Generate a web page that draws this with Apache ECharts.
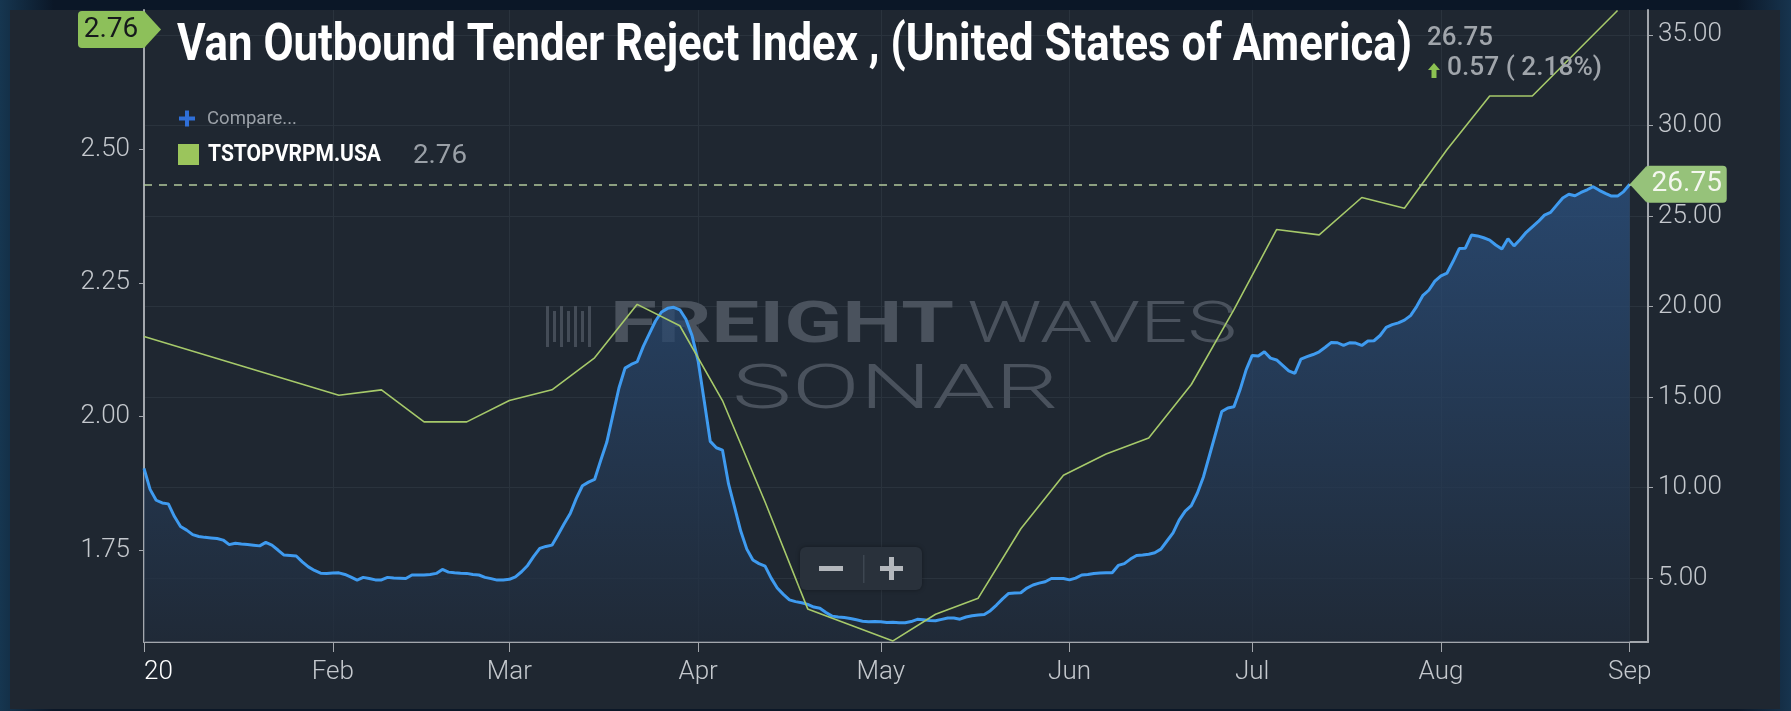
<!DOCTYPE html>
<html>
<head>
<meta charset="utf-8">
<title>Van Outbound Tender Reject Index</title>
<script src="https://cdn.jsdelivr.net/npm/echarts@6.0.0/dist/echarts.min.js"></script>
<style>
  html, body { margin: 0; padding: 0; background: #0c1a2b; }
  #main { width: 1791px; height: 711px; background: linear-gradient(90deg, #163650 0%, #0b1727 3%, #0b1727 97%, #17344e 100%); }
</style>
</head>
<body>
<div id="main"></div>
<script>
// daily categories, Jan 1 2020 .. Sep 4 2020
var dates = []
for (var i = 0; i < 248; i++) {
  dates.push(new Date(Date.UTC(2020, 0, 1 + i)).toISOString().slice(0, 10))
}

var monthTicks = ['2020-01-01', '2020-02-01', '2020-03-01', '2020-04-01', '2020-05-01', '2020-06-01', '2020-07-01', '2020-08-01', '2020-09-01']
var monthLabels = ['20', 'Feb', 'Mar', 'Apr', 'May', 'Jun', 'Jul', 'Aug', 'Sep']

var leftTicks = [1.75, 2.00, 2.25, 2.50]
var rightTicks = [5, 10, 15, 20, 25, 30, 35]

// Van Outbound Tender Reject Index (right axis), daily from Jan 1
var rejectValues = [
  11.06, 9.9, 9.3, 9.15, 9.1, 8.4, 7.85, 7.65, 7.4, 7.3,
  7.25, 7.22, 7.19, 7.1, 6.85, 6.92, 6.88, 6.85, 6.82, 6.78,
  6.97, 6.82, 6.55, 6.27, 6.25, 6.22, 5.9, 5.62, 5.42, 5.27,
  5.26, 5.28, 5.29, 5.2, 5.05, 4.89, 5.04, 4.98, 4.9, 4.9,
  5.04, 5.0, 4.99, 4.98, 5.17, 5.17, 5.17, 5.2, 5.26, 5.48,
  5.33, 5.29, 5.27, 5.26, 5.2, 5.17, 5.04, 4.97, 4.89, 4.9,
  4.93, 5.07, 5.35, 5.7, 6.2, 6.64, 6.75, 6.82, 7.4, 8.0,
  8.57, 9.4, 10.1, 10.3, 10.45, 11.5, 12.5, 14.0, 15.5, 16.6,
  16.8, 16.95, 17.8, 18.5, 19.2, 19.7, 19.9, 19.96, 19.82, 19.3,
  18.4, 17.0, 14.8, 12.55, 12.2, 12.07, 10.2, 8.9, 7.6, 6.6,
  6.0, 5.8, 5.66, 5.0, 4.45, 4.1, 3.8, 3.7, 3.64, 3.55,
  3.4, 3.33, 3.1, 2.9, 2.85, 2.82, 2.77, 2.7, 2.62, 2.59,
  2.6, 2.59, 2.55, 2.56, 2.54, 2.53, 2.6, 2.72, 2.7, 2.66,
  2.64, 2.72, 2.8, 2.8, 2.73, 2.85, 2.92, 2.96, 2.99, 3.2,
  3.51, 3.85, 4.15, 4.18, 4.19, 4.45, 4.62, 4.72, 4.8, 4.98,
  4.98, 4.98, 4.9, 5.0, 5.17, 5.2, 5.25, 5.28, 5.29, 5.3,
  5.7, 5.8, 6.05, 6.25, 6.28, 6.32, 6.4, 6.6, 7.05, 7.5,
  8.2, 8.7, 9.0, 9.7, 10.6, 11.8, 13.0, 14.2, 14.4, 14.46,
  15.4, 16.5, 17.3, 17.27, 17.5, 17.15, 17.05, 16.75, 16.45, 16.31,
  17.1, 17.23, 17.35, 17.5, 17.75, 18.02, 18.0, 17.85, 18.0, 17.98,
  17.85, 18.1, 18.11, 18.4, 18.85, 19.0, 19.1, 19.25, 19.5, 20.0,
  20.6, 20.9, 21.4, 21.7, 21.85, 22.5, 23.2, 23.22, 23.95, 23.9,
  23.8, 23.67, 23.4, 23.18, 23.75, 23.35, 23.7, 24.1, 24.4, 24.7,
  25.05, 25.2, 25.6, 26.0, 26.2, 26.12, 26.3, 26.45, 26.62, 26.42,
  26.25, 26.1, 26.1, 26.35, 26.75
]

// TSTOPVRPM.USA (left axis), weekly
var rateDates = ['2020-01-01', '2020-02-02', '2020-02-09', '2020-02-16', '2020-02-23', '2020-03-01', '2020-03-08', '2020-03-15',
  '2020-03-22', '2020-03-29', '2020-04-05', '2020-04-12', '2020-04-19', '2020-04-26', '2020-05-03', '2020-05-10',
  '2020-05-17', '2020-05-24', '2020-05-31', '2020-06-07', '2020-06-14', '2020-06-21', '2020-06-28', '2020-07-05',
  '2020-07-12', '2020-07-19', '2020-07-26', '2020-08-02', '2020-08-09', '2020-08-16', '2020-08-23', '2020-08-30']
var rateValues = [2.15, 2.04, 2.05, 1.99, 1.99, 2.03, 2.05, 2.11,
  2.21, 2.17, 2.03, 1.84, 1.64, 1.61, 1.58, 1.63,
  1.66, 1.79, 1.89, 1.93, 1.96, 2.06, 2.20, 2.35,
  2.34, 2.41, 2.39, 2.50, 2.60, 2.60, 2.68, 2.76]

var lastReject = rejectValues[rejectValues.length - 1]
var lastRate = rateValues[rateValues.length - 1]
var changeText = '0.57 ( 2.18%)'

var rateData = dates.map(function(d) {
  var k = rateDates.indexOf(d)
  return k >= 0 ? rateValues[k] : null
})

var isMonthTick = function(index, value) {
  return monthTicks.indexOf(value) >= 0
}

// scaleX needed to squeeze a text into a given width (condensed look)
var measureCtx = document.createElement('canvas').getContext('2d')
function fit(text, font, width) {
  measureCtx.font = font
  return width / measureCtx.measureText(text).width
}

function label(text, x, y, font, color, width, align, z) {
  return {
    type: 'text',
    x: x,
    y: y,
    z: z || 50,
    scaleX: width ? fit(text, font, width) : 1,
    style: {
      text: text,
      font: font,
      fill: color,
      align: align || 'left',
      textAlign: align || 'left',
      verticalAlign: 'middle',
      textVerticalAlign: 'middle'
    }
  }
}

var chart = echarts.init(document.getElementById('main'))

chart.setOption({
  animation: false,
  backgroundColor: 'transparent',
  grid: { left: 144, right: 143, top: 10, bottom: 69 },
  xAxis: {
    type: 'category',
    data: dates,
    boundaryGap: false,
    axisLine: { lineStyle: { color: '#a3a7ad', width: 2 } },
    axisTick: { interval: isMonthTick, length: 10, lineStyle: { color: '#a3a7ad', width: 1 } },
    splitLine: { show: true, interval: isMonthTick, lineStyle: { color: '#2a333d', width: 1 } },
    axisLabel: {
      interval: isMonthTick,
      margin: 17,
      fontFamily: 'Roboto',
      fontWeight: 300,
      fontSize: 26,
      alignMinLabel: 'left',
      color: function(value) {
        return value === monthTicks[0] ? '#ffffff' : '#c4c8cd'
      },
      formatter: function(value) {
        var k = monthTicks.indexOf(value)
        return k >= 0 ? monthLabels[k] : ''
      }
    }
  },
  yAxis: [
    {
      type: 'value',
      position: 'left',
      min: 1.578,
      max: 2.761,
      axisLine: { show: true, lineStyle: { color: '#a3a7ad', width: 2 } },
      axisTick: { show: true, length: 5, customValues: leftTicks, lineStyle: { color: '#a3a7ad' } },
      splitLine: { show: false },
      axisLabel: {
        customValues: leftTicks,
        margin: 14,
        fontFamily: 'Roboto',
        fontWeight: 300,
        fontSize: 26,
        color: '#c4c8cd',
        formatter: function(v) { return v.toFixed(2) }
      }
    },
    {
      type: 'value',
      position: 'right',
      min: 1.47,
      max: 36.38,
      axisLine: { show: true, lineStyle: { color: '#a3a7ad', width: 2 } },
      axisTick: { show: true, length: 5, customValues: rightTicks, lineStyle: { color: '#a3a7ad' } },
      splitLine: { show: true, lineStyle: { color: '#2a333d', width: 1 } },
      axisLabel: {
        customValues: rightTicks,
        margin: 10,
        fontFamily: 'Roboto',
        fontWeight: 300,
        fontSize: 26,
        color: '#c4c8cd',
        formatter: function(v) { return v.toFixed(2) }
      }
    }
  ],
  series: [
    {
      name: 'Van Outbound Tender Reject Index',
      type: 'line',
      yAxisIndex: 1,
      data: rejectValues,
      showSymbol: false,
      z: 3,
      lineStyle: { color: '#3f9bf0', width: 3 },
      areaStyle: {
        origin: 'start',
        color: new echarts.graphic.LinearGradient(0, 0, 0, 1, [
          { offset: 0, color: '#2c5486' },
          { offset: 1, color: '#202b3a' }
        ])
      },
      markLine: {
        silent: true,
        symbol: 'none',
        label: { show: false },
        lineStyle: { color: '#b3c99c', type: [8, 7], width: 1.6 },
        data: [{ yAxis: lastReject }]
      }
    },
    {
      name: 'TSTOPVRPM.USA',
      type: 'line',
      yAxisIndex: 0,
      data: rateData,
      connectNulls: true,
      showSymbol: false,
      z: 4,
      lineStyle: { color: '#a6c96a', width: 1.6 }
    }
  ]
})

// value tags and overlay text
var tipR = chart.convertToPixel({ seriesIndex: 0 }, [dates[rejectValues.length - 1], lastReject])
var tipLy = Math.max(chart.convertToPixel({ yAxisIndex: 0 }, lastRate) + 19, 29.5)

chart.setOption({
  graphic: [
    // panel
    { type: 'rect', z: -100, shape: { x: 10, y: 10, width: 1770, height: 699 }, style: { fill: '#1f2731' } },
    // watermark
    { type: 'group', z: 1, children: [0, 1, 2, 3, 4, 5, 6].map(function(k) {
      return { type: 'rect', shape: { x: 546 + k * 7, y: 306 + (k % 2) * 5, width: 3, height: 41 - (k % 2) * 10 }, style: { fill: '#444c57' } }
    }) },
    label('FREIGHT', 610, 327, 'bold 58px Roboto', '#4a525d', 344, 'left', 1),
    label('WAVES', 967, 327, '300 58px Roboto', '#4a525d', 270, 'left', 1),
    label('SONAR', 732, 392, '300 62px Roboto', '#4a525d', 327, 'left', 1),
    // zoom control
    { type: 'rect', z: 40, shape: { x: 800, y: 547, width: 122, height: 43, r: 6 }, style: { fill: '#29313b', shadowBlur: 4, shadowColor: 'rgba(0,0,0,0.35)' } },
    { type: 'rect', z: 41, shape: { x: 819, y: 566, width: 24, height: 5 }, style: { fill: '#b3b7bc' } },
    { type: 'rect', z: 41, shape: { x: 863, y: 555, width: 1.5, height: 28 }, style: { fill: '#3d4651' } },
    { type: 'rect', z: 41, shape: { x: 880, y: 566, width: 23, height: 5 }, style: { fill: '#b3b7bc' } },
    { type: 'rect', z: 41, shape: { x: 889, y: 557, width: 5, height: 23 }, style: { fill: '#b3b7bc' } },
    // title and legend
    label('Van Outbound Tender Reject Index , (United States of America)', 177, 47, 'bold 52px Roboto', '#ffffff', 1235),
    { type: 'rect', z: 50, shape: { x: 179, y: 116.5, width: 16, height: 4 }, style: { fill: '#2f6fd8' } },
    { type: 'rect', z: 50, shape: { x: 185, y: 110.5, width: 4, height: 16 }, style: { fill: '#2f6fd8' } },
    label('Compare...', 207, 119, '19px Roboto', '#9aa0a7', 90),
    { type: 'rect', z: 50, shape: { x: 178, y: 144, width: 21, height: 21 }, style: { fill: '#9bc55c' } },
    label('TSTOPVRPM.USA', 208, 155, 'bold 24px Roboto', '#ffffff', 173),
    label(lastRate.toFixed(2), 413, 156, '26px Roboto', '#9aa0a7', 54),
    // header value top right
    label(lastReject.toFixed(2), 1427, 38, '500 26px Roboto', '#a0a5ab', 66),
    { type: 'polygon', z: 50, shape: { points: [[1428, 70], [1434, 63], [1440, 70], [1436.5, 70], [1436.5, 78], [1431.5, 78], [1431.5, 70]] }, style: { fill: '#8cc152' } },
    label(changeText, 1447, 68, '500 26px Roboto', '#a0a5ab', 155),
    // left tag
    { type: 'rect', z: 60, shape: { x: 78, y: tipLy - 18.5, width: 68, height: 37, r: 4 }, style: { fill: '#8dc05a' } },
    { type: 'polygon', z: 60, shape: { points: [[144, tipLy - 18.5], [161, tipLy], [144, tipLy + 18.5]] }, style: { fill: '#8dc05a' } },
    label(lastRate.toFixed(2), 111, tipLy, '28px Roboto', '#16191c', 0, 'center', 70),
    // right tag
    { type: 'polygon', z: 60, shape: { points: [[tipR[0], tipR[1]], [tipR[0] + 17, tipR[1] - 18.5], [tipR[0] + 17, tipR[1] + 18.5]] }, style: { fill: '#96c27a' } },
    { type: 'rect', z: 60, shape: { x: tipR[0] + 16, y: tipR[1] - 18.5, width: 81, height: 37, r: 4 }, style: { fill: '#96c27a' } },
    label(lastReject.toFixed(2), tipR[0] + 57, tipR[1], '28px Roboto', '#f4f7ef', 0, 'center', 70)
  ]
})
</script>
</body>
</html>
